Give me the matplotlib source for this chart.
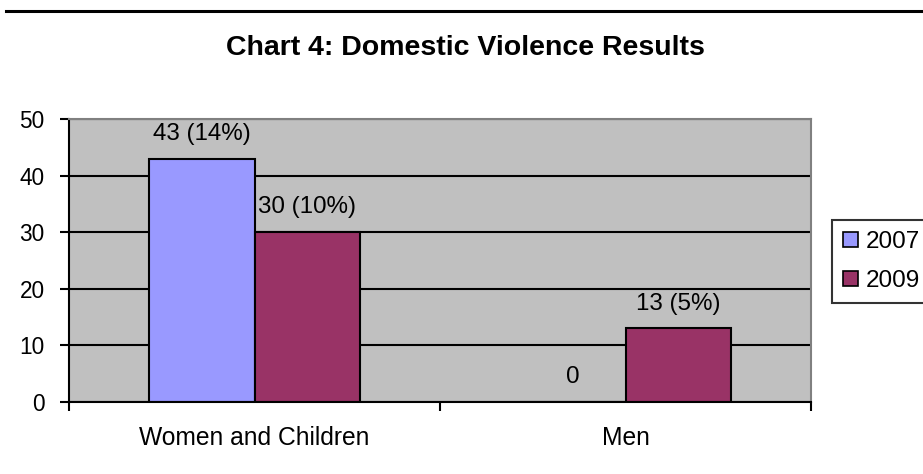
import matplotlib
matplotlib.use("Agg")
import matplotlib.pyplot as plt
from matplotlib.lines import Line2D
from matplotlib.patches import Patch
import numpy as np

plt.rcParams["font.family"] = ["Liberation Sans", "DejaVu Sans"]

categories = ["Women and Children", "Men"]
years = ["2007", "2009"]
counts_2007 = [43, 0]
counts_2009 = [30, 13]
pct_2007 = [14, None]
pct_2009 = [10, 5]
yticks = [0, 10, 20, 30, 40, 50]

c2007 = "#9999FF"
c2009 = "#993366"

W, H = 923, 474
fig = plt.figure(figsize=(W / 100, H / 100), dpi=100)
ax = fig.add_axes([69 / W, 1 - 402 / H, (811 - 69) / W, (402 - 119) / H])
ax.set_facecolor("#C0C0C0")

x = np.arange(len(categories))
bw = 0.2857
bars1 = ax.bar(x - bw / 2, counts_2007, bw, color=c2007, edgecolor="black", linewidth=1.5, zorder=3)
bars2 = ax.bar(x + bw / 2, counts_2009, bw, color=c2009, edgecolor="black", linewidth=1.5, zorder=3)

def label(v, p):
    return f"{v}" if p is None else f"{v} ({p}%)"

for bars, vals, pcts in [(bars1, counts_2007, pct_2007), (bars2, counts_2009, pct_2009)]:
    for b, v, p in zip(bars, vals, pcts):
        ax.annotate(label(v, p), (b.get_x() + b.get_width() / 2, v),
                    xytext=(0, 13.5), textcoords="offset points",
                    ha="center", va="baseline", fontsize=17.4, zorder=4)

ax.set_ylim(0, 50)
ax.set_xlim(-0.5, len(categories) - 0.5)
ax.set_yticks(yticks)
ax.tick_params(axis="y", direction="out", length=6.5, width=1.5, labelsize=16.3, pad=11)
ax.yaxis.grid(True, color="black", linewidth=1.5, zorder=1)
ax.set_axisbelow(True)

# category boundary ticks on the major locator, names on the minor one
ax.set_xticks([-0.5, 0.5, 1.5])
ax.set_xticklabels([])
ax.set_xticks(x, minor=True)
ax.set_xticklabels(categories, minor=True)
ax.tick_params(axis="x", which="major", direction="out", length=6.5, width=1.5)
ax.tick_params(axis="x", which="minor", length=0, labelsize=17.7, pad=17)

for s in ["left", "bottom"]:
    ax.spines[s].set_color("black")
    ax.spines[s].set_linewidth(1.5)
for s in ["top", "right"]:
    ax.spines[s].set_color("#808080")
    ax.spines[s].set_linewidth(1.5)
ax.spines["bottom"].set_zorder(5)

fig.text(465 / W, 1 - 55 / H, "Chart 4: Domestic Violence Results",
         ha="center", va="baseline", fontsize=20.5, fontweight="bold")

fig.add_artist(Line2D([6 / W, 1], [1 - 11 / H, 1 - 11 / H], color="black", linewidth=2.2))

handles = [Patch(facecolor=c2007, edgecolor="black", linewidth=1.2),
           Patch(facecolor=c2009, edgecolor="black", linewidth=1.2)]
leg = fig.legend(handles, years, loc="upper left", bbox_to_anchor=(832 / W, 1 - 220 / H),
                 frameon=True, fancybox=False, shadow=False, fontsize=17.5,
                 handlelength=0.62, handleheight=0.62, handletextpad=0.3,
                 borderpad=0.45, labelspacing=0.7, borderaxespad=0)
leg.get_frame().set_edgecolor("black")
leg.get_frame().set_linewidth(1.5)

fig.savefig("out.png", dpi=100)
